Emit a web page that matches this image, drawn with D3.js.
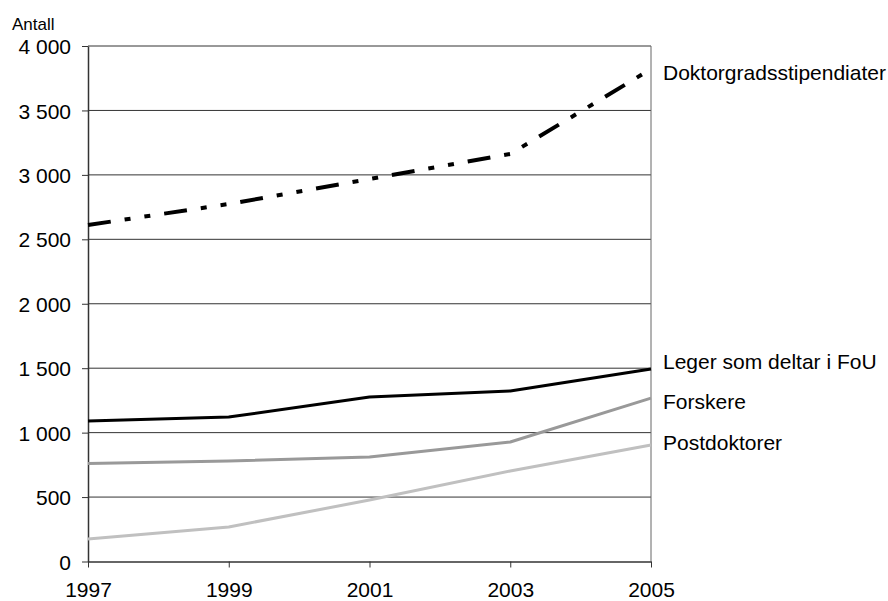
<!DOCTYPE html>
<html><head><meta charset="utf-8">
<script src="https://cdn.jsdelivr.net/npm/d3@7"></script>
<style>body{margin:0;background:#fff}svg{display:block}text{font-family:"Liberation Sans",Arial,sans-serif;fill:#000}</style>
</head><body>
<svg id="c" width="888" height="601"></svg>
<script>
const years = ["1997","1999","2001","2003","2005"];
const doktorgrad = [2611, 2774, 2968, 3162, 3821];
const leger = [1090, 1121, 1276, 1323, 1494];
const forskere = [760, 780, 811, 927, 1268];
const postdoktorer = [175, 268, 477, 702, 904];
const seriesNames = ["Doktorgradsstipendiater","Leger som deltar i FoU","Forskere","Postdoktorer"];
const yTicks = [0,500,1000,1500,2000,2500,3000,3500,4000];

(function(){
const series = [
  {name: seriesNames[0], values: doktorgrad, color:"#000", width:4, dash:"23,14,6,14,6,14", labelY: 3798},
  {name: seriesNames[1], values: leger, color:"#000", width:3, dash:null, labelY: 1556},
  {name: seriesNames[2], values: forskere, color:"#999", width:3, dash:null, labelY: 1245},
  {name: seriesNames[3], values: postdoktorer, color:"#c0c0c0", width:3, dash:null, labelY: 927}
];

const svg = d3.select("#c");
const mL=88, mR=651, mT=46, mB=561.5;
const x = d3.scalePoint().domain(years).range([mL,mR]);
const y = d3.scaleLinear().domain([0,4000]).range([mB,mT]);
const fmt = v => d3.format(",")(v).replace(/,/g," ");

svg.append("g").selectAll("line").data(yTicks.filter(d=>d>0)).join("line")
  .attr("x1",mL).attr("x2",mR).attr("y1",d=>y(d)).attr("y2",d=>y(d))
  .attr("stroke","#333").attr("stroke-width",1);
svg.append("line").attr("x1",mR).attr("x2",mR).attr("y1",mT).attr("y2",mB)
  .attr("stroke","#666").attr("stroke-width",1);

const ya = svg.append("g").attr("transform",`translate(${mL},0)`)
  .call(d3.axisLeft(y).tickValues(yTicks).tickFormat(fmt).tickSize(6).tickPadding(11).tickSizeOuter(0));
ya.select(".domain").attr("stroke","#333").attr("stroke-width",1.5);
ya.selectAll(".tick line").attr("stroke","#333");
ya.selectAll("text").style("font-size","21px").attr("dy","0.36em");

const xa = svg.append("g").attr("transform",`translate(0,${mB})`)
  .call(d3.axisBottom(x).tickSize(6).tickPadding(15).tickSizeOuter(0));
xa.select(".domain").attr("stroke","#333").attr("stroke-width",1.5);
xa.selectAll(".tick line").attr("stroke","#333");
xa.selectAll("text").style("font-size","21px");

svg.append("text").attr("x",12).attr("y",30).style("font-size","17px").text("Antall");

const line = d3.line().x((d,i)=>x(years[i])).y(d=>y(d));
series.slice().reverse().forEach(s=>{
  svg.append("path").datum(s.values).attr("d",line).attr("fill","none")
    .attr("stroke",s.color).attr("stroke-width",s.width)
    .attr("stroke-dasharray",s.dash).attr("stroke-linejoin","round");
});
svg.append("g").selectAll("text").data(series).join("text")
  .attr("x",663).attr("y",d=>y(d.labelY)).attr("dy","0.36em")
  .style("font-size","21px").text(d=>d.name);
})();
</script>
</body></html>
